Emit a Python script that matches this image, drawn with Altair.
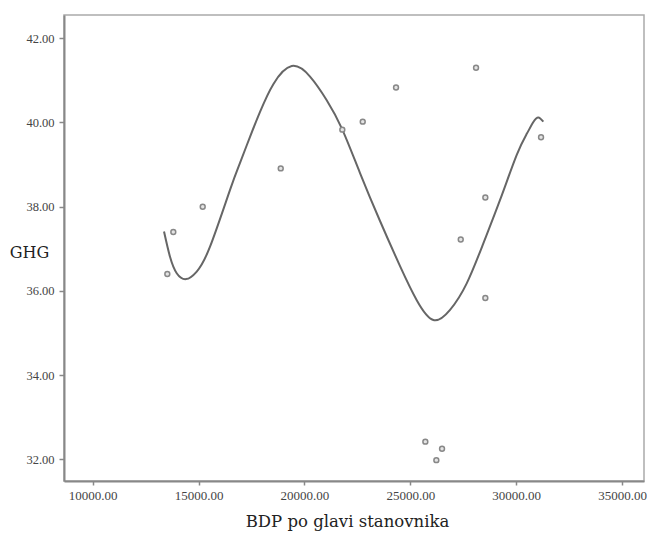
import altair as alt
import pandas as pd

# Scatter points (BDP per capita, GHG)
bdp = [13524, 13807, 15196, 18881, 21790, 22754, 24327, 28106, 31176,
       28545, 27383, 28545, 25711, 26500, 26231]
ghg = [36.40, 37.40, 38.00, 38.91, 39.83, 40.02, 40.83, 41.30, 39.65,
       38.22, 37.22, 35.83, 32.42, 32.25, 31.98]

# Fitted curve
fit_x = [13368, 13651, 13968, 14407, 14913, 15541, 16486, 16958, 17430,
         17903, 18531, 19400, 20265, 21053, 21776, 22626, 23571, 24516,
         25305, 26089, 26878, 27666, 28451, 29240, 30028, 30501, 30813,
         31049, 31285]
fit_y = [37.41, 36.81, 36.42, 36.28, 36.46, 37.05, 38.40, 39.04, 39.66,
         40.25, 40.91, 41.34, 41.09, 40.53, 39.85, 38.80, 37.66, 36.59,
         35.78, 35.31, 35.55, 36.18, 37.13, 38.16, 39.23, 39.73, 40.01,
         40.12, 40.02]

x_ticks = [10000, 15000, 20000, 25000, 30000, 35000]
y_ticks = [32, 34, 36, 38, 40, 42]

pts = pd.DataFrame({"x": bdp, "y": ghg})
fit = pd.DataFrame({"x": fit_x, "y": fit_y})

label_font = "Liberation Serif"
title_font = "DejaVu Serif"

xscale = alt.Scale(domain=[8644, 36039], nice=False, zero=False)
yscale = alt.Scale(domain=[31.485, 42.553], nice=False, zero=False)

xaxis = alt.Axis(
    values=x_ticks, format=".2f", title="BDP po glavi stanovnika",
    labelFont=label_font, labelFontSize=13, labelColor="#444",
    tickColor="#888", tickSize=4, tickWidth=1.5,
    domainColor="#888", domainWidth=2, grid=False,
    labelPadding=4, labelFlush=False,
    titleFont=title_font, titleFontSize=16.5, titleFontWeight="normal",
    titleColor="#222", titleY=40, titleX=283, titleBaseline="middle",
)
yaxis = alt.Axis(
    values=y_ticks, format=".2f", title="GHG",
    labelFont=label_font, labelFontSize=12.5, labelColor="#444",
    tickColor="#888", tickSize=5, tickWidth=1.5,
    domainColor="#888", domainWidth=2, grid=False,
    labelPadding=5,
    titleFont=title_font, titleFontSize=16, titleFontWeight="normal",
    titleColor="#222", titleAngle=0, titleX=-35, titleY=237,
    titleAlign="center", titleBaseline="middle",
)

line = alt.Chart(fit).mark_line(
    color="#666", strokeWidth=2, interpolate="natural"
).encode(
    x=alt.X("x:Q", scale=xscale, axis=xaxis),
    y=alt.Y("y:Q", scale=yscale, axis=yaxis),
)

points = alt.Chart(pts).mark_point(
    shape="circle", size=24, filled=False, stroke="#888", strokeWidth=1.5,
    fill="#e4e4e4", fillOpacity=1, opacity=1
).encode(
    x=alt.X("x:Q", scale=xscale),
    y=alt.Y("y:Q", scale=yscale),
)

chart = alt.layer(line, points).properties(
    width=580, height=466,
    autosize=alt.AutoSizeParams(type="none"),
    padding={"left": 64, "top": 15, "right": 3, "bottom": 53},
    background="white",
).configure_view(stroke="#aaa", strokeWidth=1.5)

chart.save("out.html", embed_options={"renderer": "svg", "actions": False})
